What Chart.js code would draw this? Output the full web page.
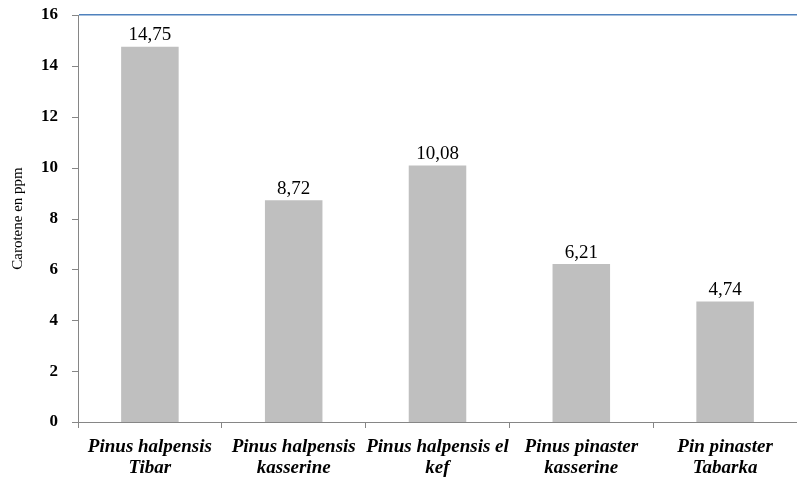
<!DOCTYPE html>
<html lang="fr">
<head>
  <meta charset="UTF-8">
  <title>Carotene en ppm</title>
  <script src="https://cdn.jsdelivr.net/npm/chart.js"></script>
  <style>
    body { margin: 0; background: #fff; }
    #wrap { width: 797px; height: 479px; }
  </style>
</head>
<body>
<div id="wrap"><canvas id="barChart" width="797" height="479"></canvas></div>
<script>
  // Chart data
  const categories = [
    ['Pinus halpensis', 'Tibar'],
    ['Pinus halpensis', 'kasserine'],
    ['Pinus halpensis el', 'kef'],
    ['Pinus pinaster', 'kasserine'],
    ['Pin pinaster', 'Tabarka']
  ];
  const caroteneValues = [14.75, 8.72, 10.08, 6.21, 4.74];
  const yTicks = [0, 2, 4, 6, 8, 10, 12, 14, 16];

  const serif = '"Liberation Serif", "Times New Roman", serif';

  // draws the value above each bar, with a comma as decimal mark
  const valueLabels = {
    id: 'valueLabels',
    afterDatasetsDraw(chart) {
      const ctx = chart.ctx;
      const meta = chart.getDatasetMeta(0);
      ctx.save();
      ctx.font = '19px ' + serif;
      ctx.fillStyle = '#000';
      ctx.textAlign = 'center';
      ctx.textBaseline = 'bottom';
      meta.data.forEach((bar, i) => {
        const txt = caroteneValues[i].toFixed(2).replace('.', ',');
        ctx.fillText(txt, bar.x, bar.y - 2);
      });
      ctx.restore();
    }
  };

  new Chart(document.getElementById('barChart'), {
    type: 'bar',
    data: {
      labels: categories,
      datasets: [{
        data: caroteneValues,
        backgroundColor: '#bfbfbf',
        categoryPercentage: 1,
        barPercentage: 0.4
      }]
    },
    options: {
      responsive: false,
      animation: false,
      layout: { padding: { top: 15, right: 0, left: 0, bottom: 0 } },
      plugins: {
        legend: { display: false },
        tooltip: { enabled: false }
      },
      scales: {
        x: {
          grid: {
            drawOnChartArea: false,
            color: '#868686',
            tickLength: 6,
            offset: true
          },
          border: { color: '#868686', width: 1 },
          ticks: {
            color: '#000',
            maxRotation: 0,
            autoSkip: false,
            padding: 9,
            font: { family: serif, size: 19, style: 'italic', weight: 'bold', lineHeight: 1.1 }
          },
          afterFit(scale) {
            scale.height = 57;
            scale.paddingLeft = 0;
            scale.paddingRight = 0;
          }
        },
        y: {
          min: 0,
          max: 16,
          afterBuildTicks(scale) { scale.ticks = yTicks.map(v => ({ value: v })); },
          grid: {
            color: ctx => ctx.tick && ctx.tick.value === 16 ? '#4f81bd' : 'rgba(0,0,0,0)',
            lineWidth: ctx => ctx.tick && ctx.tick.value === 16 ? 1.5 : 0,
            drawTicks: false
          },
          border: { color: '#868686', width: 1 },
          ticks: {
            color: '#000',
            padding: 20,
            font: { family: serif, size: 17, weight: 'bold' }
          },
          title: {
            display: true,
            text: 'Carotene en ppm',
            color: '#000',
            padding: { top: 9, bottom: 0 },
            font: { family: serif, size: 15 }
          },
          afterFit(scale) {
            scale.width = 78;
            scale.paddingTop = 0;
            scale.paddingBottom = 0;
          }
        }
      }
    },
    plugins: [valueLabels, {
      // short outward tick marks on the value axis
      id: 'yTickMarks',
      afterDraw(chart) {
        const y = chart.scales.y;
        const ctx = chart.ctx;
        ctx.save();
        ctx.strokeStyle = '#868686';
        ctx.lineWidth = 1;
        y.ticks.forEach(t => {
          const py = Math.round(y.getPixelForValue(t.value)) + 0.5;
          ctx.beginPath();
          ctx.moveTo(y.right - 6, py);
          ctx.lineTo(y.right, py);
          ctx.stroke();
        });
        ctx.restore();
      }
    }]
  });
</script>
</body>
</html>
